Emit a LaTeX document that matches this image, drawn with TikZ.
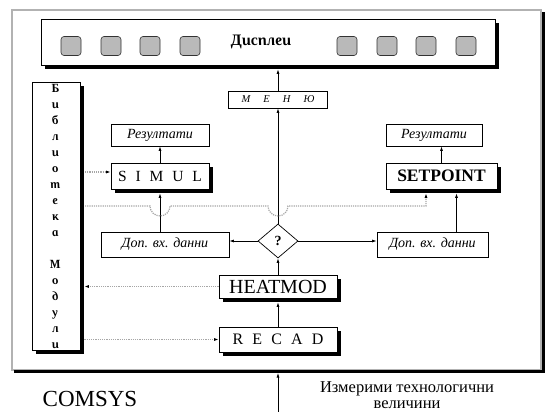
\documentclass[tikz,border=0pt]{standalone}
\usepackage{fontspec}
\setmainfont{Liberation Serif}
\newfontfamily\bgfont[FakeSlant=-0.21]{Liberation Serif Bold Italic}
\newfontfamily\trackfont[LetterSpace=57]{Liberation Serif}
\newfontfamily\menufont[WordSpace=5]{Liberation Serif Italic}
\usetikzlibrary{arrows.meta,shapes.geometric,shadows}

\begin{document}
\begin{tikzpicture}[x=1pt, y=-1pt,
  box/.style={draw, line width=0.7pt, fill=white, inner sep=0pt, align=center},
  shbox/.style={box, drop shadow={shadow xshift=4pt, shadow yshift=-4pt, fill=black, opacity=1}},
  key/.style={draw=gray!40!black, fill=gray!55, rounded corners=3pt, minimum width=20pt, minimum height=19pt, inner sep=0pt, line width=0.6pt},
  arr/.style={-{Latex[length=4.5pt,width=3pt]}, line width=0.7pt},
  dotline/.style={gray!70, line width=1.2pt, densely dotted},
  dotarr/.style={dotline, -{Latex[length=4.5pt,width=3pt,black]}}
]
  \useasboundingbox (0,0) rectangle (547,412);
  \clip (0,0) rectangle (547,412);

  % Outer frame
  \draw[gray!60, line width=1.2pt] (12,10) rectangle (541,370);
  \draw[line width=3pt] (14,371) -- (543,371) -- (543,12);

  % Display with keys
  \node[shbox, minimum width=454pt, minimum height=46pt] (disp) at (268,42) {};
  \foreach \kx in {71,111,150,190,347,387,426,466}
    \node[key] at (\kx,46) {};
  \node[font=\bgfont\fontsize{16}{16}\selectfont] (disptxt) at (262,42) {Дисплеи};

  % Library of modules
  \node[shbox, minimum width=48pt, minimum height=268pt, font=\bgfont\fontsize{12.5}{16}\selectfont] (lib) at (56,216)
    {Б\\и\\б\\л\\и\\о\\т\\е\\к\\а\\[16pt]М\\о\\д\\у\\л\\и};

  % Menu and results
  \node[box, minimum width=99pt, minimum height=17pt, font=\menufont\fontsize{10.5}{11}\selectfont] (menu) at (278,99.5) {М Е Н Ю};
  \node[box, minimum width=98pt, minimum height=22pt, font=\itshape\fontsize{14}{14}\selectfont] (res1) at (160,135) {Резултати};
  \node[box, minimum width=96pt, minimum height=22pt, font=\itshape\fontsize{14}{14}\selectfont] (res2) at (434,135) {Резултати};

  % Modules
  \node[shbox, minimum width=98pt, minimum height=26pt, font=\trackfont\fontsize{15.5}{15.5}\selectfont] (simul) at (160,176) {SIMUL};
  \node[shbox, minimum width=111pt, minimum height=26pt, font=\bfseries\fontsize{17.5}{17.5}\selectfont] (setpt) at (441.5,176) {SETPOINT};
  \node[shbox, minimum width=118pt, minimum height=23pt, font=\fontsize{20}{20}\selectfont] (heat) at (278,286.5) {HEATMOD};
  \node[shbox, minimum width=118pt, minimum height=25pt, font=\trackfont\fontsize{16}{16}\selectfont] (recad) at (278,339.5) {RECAD};

  % Decision and extra input data
  \node[draw, diamond, aspect=1.18, minimum width=40pt, minimum height=34pt, inner sep=0pt, line width=0.7pt, fill=white,
        font=\bfseries\fontsize{14}{14}\selectfont] (q) at (278,241) {?};
  \node[box, minimum width=128pt, minimum height=25pt, font=\itshape\fontsize{14}{14}\selectfont] (dop1) at (165,244.5) {Доп. вх. данни};
  \node[box, minimum width=111pt, minimum height=25pt, font=\itshape\fontsize{14}{14}\selectfont] (dop2) at (432.5,244.5) {Доп. вх. данни};

  % Main flow
  \coordinate (dispB) at ([yshift=-4pt]disp.south);
  \coordinate (heatB) at ([yshift=-4pt]heat.south);
  \coordinate (simulB) at ([yshift=-4pt]simul.south);
  \coordinate (setB) at ([xshift=15pt,yshift=-4pt]setpt.south);
  \draw[arr] (menu.north) -- (menu.north |- dispB);
  \draw[arr] (q.north) -- (menu.south);
  \draw[arr] (heat.north) -- (q.south);
  \draw[arr] (recad.north) -- (heatB);
  \draw[arr] (q.west) -- (q.west -| dop1.east);
  \draw[arr] (q.east) -- (q.east -| dop2.west);
  \draw[arr] (simulB |- dop1.north) -- (simulB);
  \draw[arr] (simul.north) -- (res1.south);
  \draw[arr] (setpt.north) -- (setpt.north |- res2.south);
  \draw[arr] (setB |- dop2.north) -- (setB);

  % Library links (dotted)
  \coordinate (libR) at ([xshift=4pt]lib.east);
  \coordinate (libS) at (85,172);
  \draw[dotarr] (libS) -- (libS -| simul.west);
  \draw[dotarr] (heat.west) -- (heat.west -| libR);
  \draw[dotarr] (recad.west -| libR) -- (recad.west);
  \coordinate (busL) at (85,206);
  \coordinate (busR) at (426,206);
  \draw[dotarr] (busL) -- (150,206) arc[start angle=180, end angle=0, radius=10]
    -- (268,206) arc[start angle=180, end angle=0, radius=10] -- (busR) -- (busR |- setB);

  % Measured input
  \coordinate (inp) at (278,412);
  \coordinate (frameB) at (278,373);
  \draw[arr] (inp) -- (frameB);
  \node[font=\fontsize{23}{23}\selectfont] (comsys) at (90,399) {COMSYS};
  \node[font=\fontsize{16.5}{16}\selectfont, align=center, anchor=south, inner sep=1pt] (meas) at (407,410) {Измерими технологични\\величини};
\end{tikzpicture}
\end{document}
